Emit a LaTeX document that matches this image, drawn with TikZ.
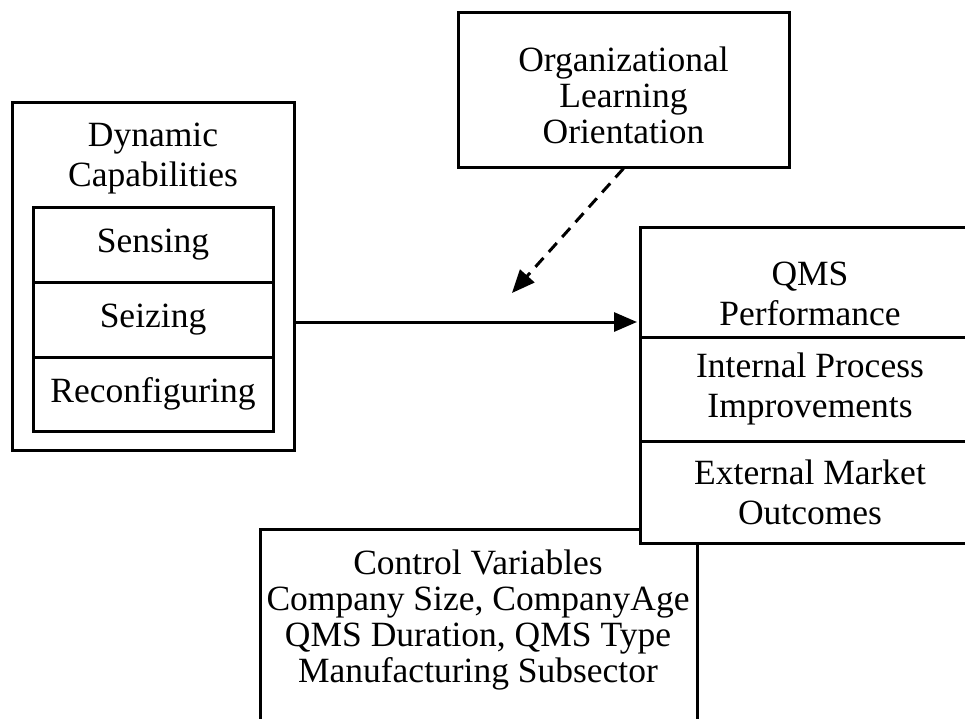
\documentclass[tikz,border=0pt]{standalone}
\usepackage{fontspec}
\setmainfont{Liberation Serif}
\usetikzlibrary{arrows.meta}
\begin{document}
\begin{tikzpicture}[x=1pt,y=-1pt,
  lbl/.style={font=\fontsize{35.5}{40}\selectfont,align=center},
  box/.style={draw,line width=3pt,fill=white,inner sep=0pt,lbl},
  txt/.style={inner sep=0pt,lbl},
  arr/.style={line width=3pt,-{Triangle[length=23pt,width=19pt]}},
]
\useasboundingbox (0,0) rectangle (965,718);
\clip (0,0) rectangle (965,718);
\fill[white] (0,0) rectangle (965,718);

% Dynamic capabilities
\node[box,minimum width=282pt,minimum height=348pt] (dc) at (153,276) {};
\node[txt] (dct) at (153,158.5) {Dynamic\\Capabilities};
\node[box,minimum width=240pt,minimum height=75pt] (sens) at (153,244.5) {Sensing};
\node[box,minimum width=240pt,minimum height=75pt] (seiz) at (153,319.5) {Seizing};
\node[box,minimum width=240pt,minimum height=74pt] (reco) at (153,394) {Reconfiguring};

% Organizational learning orientation
\node[box,minimum width=331pt,minimum height=155pt] (olo) at (623.5,89.5) {};
\node[txt,font=\fontsize{35.5}{36}\selectfont] (olot) at (623.5,95) {Organizational\\Learning\\Orientation};

% Control variables (behind QMS box)
\node[box,minimum width=437pt,minimum height=240pt,anchor=north] (ctrl) at (478.5,528) {};
\node[txt,font=\fontsize{35.5}{36}\selectfont] (ctrlt) at (478,620) {Control Variables\\Company Size, CompanyAge\\QMS Duration, QMS Type\\Manufacturing Subsector};

% QMS performance
\node[box,minimum width=340pt,minimum height=110pt] (qmsh) at (810,282) {};
\node[txt] (qmst) at (810,294) {QMS\\Performance};
\node[box,minimum width=340pt,minimum height=104pt] (ipi) at (810,389) {Internal Process\\Improvements};
\node[box,minimum width=340pt,minimum height=102pt] (emo) at (810,492) {External Market\\Outcomes};

% connectors
\coordinate (a1) at (0,322);
\draw[arr,shorten >=1.5pt] (dc.east |- a1) -- (qmsh.west |- a1);
\coordinate (d1) at (512,293);
\draw[arr,dash pattern=on 12pt off 8pt] (olo.south) -- (d1);
\end{tikzpicture}
\end{document}
